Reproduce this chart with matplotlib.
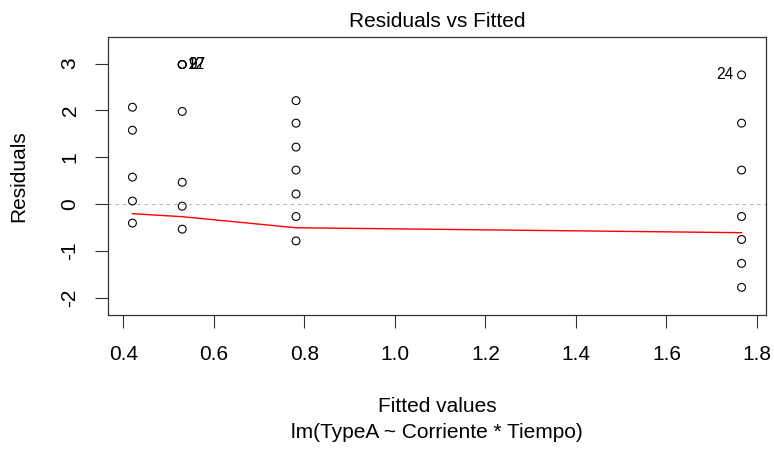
import matplotlib
matplotlib.use("Agg")
import matplotlib.pyplot as plt

plt.rcParams["font.family"] = ["Liberation Sans", "DejaVu Sans"]

# fitted values and residuals of lm(TypeA ~ Corriente * Tiempo)
fitted = [0.420] * 5 + [0.530] * 7 + [0.7815] * 7 + [1.766] * 7
residuals = [
    2.07, 1.58, 0.58, 0.07, -0.40,
    2.98, 2.98, 2.98, 1.98, 0.47, -0.04, -0.53,
    2.21, 1.73, 1.22, 0.73, 0.22, -0.26, -0.78,
    2.76, 1.73, 0.73, -0.26, -0.75, -1.26, -1.77,
]

# lowess smooth evaluated at the distinct fitted values
smooth_x = [0.420, 0.530, 0.7815, 1.766]
smooth_y = [-0.20, -0.264, -0.50, -0.605]

# observations with the largest residuals
labelled = {9: (0.530, 2.98), 12: (0.530, 2.98), 27: (0.530, 2.98), 24: (1.766, 2.76)}

xticks = [0.4, 0.6, 0.8, 1.0, 1.2, 1.4, 1.6, 1.8]
yticks = [-2, -1, 0, 1, 2, 3]

W, H = 774, 449
fig = plt.figure(figsize=(W / 100, H / 100), dpi=100)
ax = fig.add_axes([108 / W, 1 - 315 / H, (766 - 108) / W, (315 - 37) / H])

ax.axhline(0, color="#b0b0b0", lw=0.75, linestyle=(0, (3, 4)), zorder=1)
ax.scatter(fitted, residuals, s=32, facecolors="none", edgecolors="black",
           linewidths=0.8, zorder=3)
ax.plot(smooth_x, smooth_y, color="red", lw=1.0, zorder=2)

for obs, (fx, fy) in labelled.items():
    if fx > 1.0:
        ax.annotate(str(obs), (fx, fy), xytext=(-6, 0), textcoords="offset points",
                    ha="right", va="center", fontsize=11.2)
    else:
        ax.annotate(str(obs), (fx, fy), xytext=(4, 0), textcoords="offset points",
                    ha="left", va="center", fontsize=11.2)

ax.set_xlim(0.366, 1.82)
ax.set_ylim(-2.36, 3.567)
ax.set_xticks(xticks)
ax.set_xticklabels([f"{t:.1f}" for t in xticks])
ax.set_yticks(yticks)
ax.set_yticklabels([str(t) for t in yticks], rotation=90, va="center")

ax.tick_params(axis="both", direction="out", length=9.5, width=0.8,
               labelsize=15, color="#333333")
ax.tick_params(axis="x", pad=12)
ax.tick_params(axis="y", pad=11)
for sp in ax.spines.values():
    sp.set_linewidth(0.9)
    sp.set_color("#333333")

ax.set_title("Residuals vs Fitted", fontsize=15, pad=7)
ax.set_ylabel("Residuals", fontsize=15, labelpad=23)
fig.text(437 / W, 1 - 406 / H, "Fitted values", ha="center", va="center", fontsize=15)
fig.text(437 / W, 1 - 432 / H, "lm(TypeA ~ Corriente * Tiempo)", ha="center",
         va="center", fontsize=15)

fig.savefig("out.png", dpi=100)
